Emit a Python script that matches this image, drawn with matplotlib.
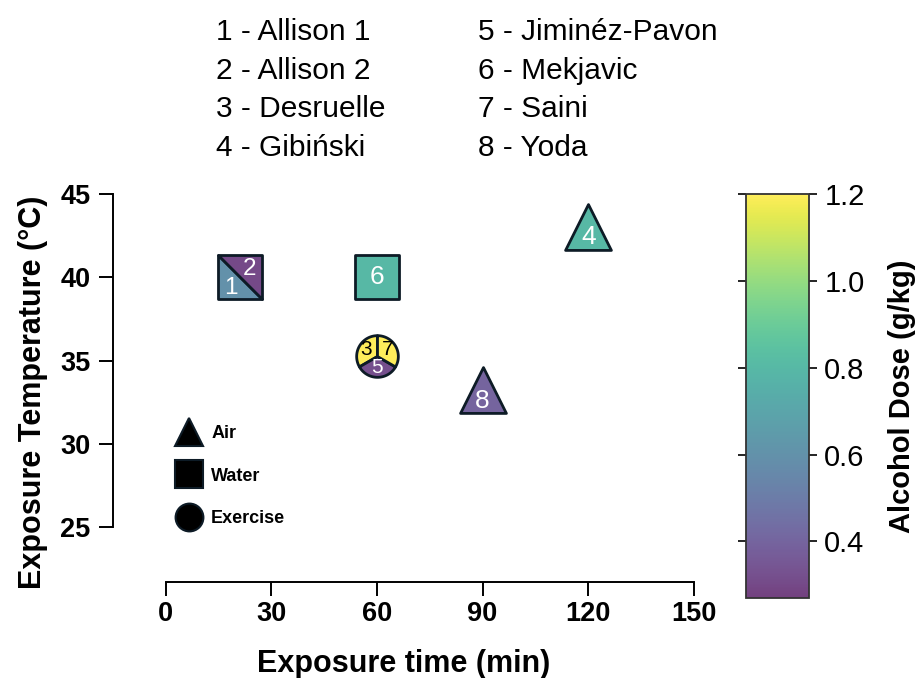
import numpy as np
import matplotlib
matplotlib.use("Agg")
import matplotlib.pyplot as plt
from matplotlib.path import Path
from matplotlib.colors import ListedColormap, Normalize
from matplotlib.lines import Line2D
from matplotlib.cm import ScalarMappable

plt.rcParams['font.family'] = ['Liberation Sans', 'DejaVu Sans']

# ---------------- data ----------------
study_ids = [1, 2, 3, 4, 5, 6, 7, 8]
study_names = ['Allison 1', 'Allison 2', 'Desruelle', 'Gibiński',
               'Jiminéz-Pavon', 'Mekjavic', 'Saini', 'Yoda']
exposure_time = [21, 21, 60, 120, 60, 60, 60, 90]          # min
exposure_temp = [40, 40, 35.3, 43, 35.3, 40, 35.3, 33.2]  # °C
alcohol_dose = [0.6, 0.3, 1.2, 0.8, 0.32, 0.8, 1.2, 0.4]  # g/kg
exposure_mode = ['Water', 'Water', 'Exercise', 'Air', 'Exercise',
                 'Water', 'Exercise', 'Air']
mode_names = ['Air', 'Water', 'Exercise']
x_ticks = [0, 30, 60, 90, 120, 150]
y_ticks = [25, 30, 35, 40, 45]
cbar_ticks = [0.4, 0.6, 0.8, 1.0, 1.2]
dose_min, dose_max = 0.27, 1.2

# ---------------- style ----------------
edge = '#0d1b26'
lw = 2.0
mode_marker = {'Air': '^', 'Water': 's', 'Exercise': 'o'}
mode_ms = {'Air': 33, 'Water': 31, 'Exercise': 30}

base = plt.get_cmap('viridis')(np.linspace(0, 1, 256))
soft = base.copy()
soft[:, :3] = base[:, :3] * 0.75 + 0.25
cmap = ListedColormap(soft)
norm = Normalize(vmin=dose_min, vmax=dose_max)

fig = plt.figure(figsize=(9.21, 6.78), dpi=100)
ax = fig.add_axes([0.1224, 0.1416, 0.6311, 0.5723])

ax.set_xlim(-15, 150)
ax.set_ylim(21.7, 45)
for s in ['top', 'right']:
    ax.spines[s].set_visible(False)
ax.spines['left'].set_bounds(25, 45)
ax.spines['bottom'].set_bounds(0, 150)
for s in ['left', 'bottom']:
    ax.spines[s].set_linewidth(1.4)
ax.set_xticks(x_ticks, labels=[str(v) for v in x_ticks],
              fontsize=19.5, fontweight='bold')
ax.set_yticks(y_ticks, labels=[str(v) for v in y_ticks],
              fontsize=19.5, fontweight='bold')
ax.tick_params(axis='both', length=10, width=1.4)
ax.tick_params(axis='x', pad=4)
ax.tick_params(axis='y', pad=6)

ax.set_xlabel('Exposure time (min)', fontsize=22, fontweight='bold')
ax.xaxis.set_label_coords(0.5, -0.172)
ax.set_ylabel('Exposure Temperature (°C)', fontsize=22, fontweight='bold', va='center')
ax.yaxis.set_label_coords(-0.138, 0.49)


def sector_path(a0, a1):
    ang = np.radians(np.arange(a0, a1 + 0.5, 1.0))
    verts = [(0, 0)] + list(zip(np.cos(ang), np.sin(ang))) + [(0, 0)]
    codes = [Path.MOVETO] + [Path.LINETO] * len(ang) + [Path.CLOSEPOLY]
    return Path(verts, codes)


tri_lower_left = Path([(-1, 1), (-1, -1), (1, -1), (-1, 1)],
                      [Path.MOVETO, Path.LINETO, Path.LINETO, Path.CLOSEPOLY])
tri_upper_right = Path([(-1, 1), (1, 1), (1, -1), (-1, 1)],
                       [Path.MOVETO, Path.LINETO, Path.LINETO, Path.CLOSEPOLY])

# group studies sharing a location and mode
groups = {}
for i in range(len(study_ids)):
    key = (exposure_time[i], exposure_temp[i], exposure_mode[i])
    groups.setdefault(key, []).append(i)

labels_to_draw = []
for (t, T, mode), idx in groups.items():
    ms = mode_ms[mode]
    n = len(idx)
    if n == 1:
        i = idx[0]
        ax.scatter([t], [T], s=ms ** 2, marker=mode_marker[mode], c=[alcohol_dose[i]],
                   cmap=cmap, norm=norm, edgecolors=edge, linewidths=lw,
                   zorder=3, clip_on=False)
        off = (0, -0.22 * ms) if mode == 'Air' else (0, 0)
        labels_to_draw.append((i, t, T, off, 19))
    elif mode == 'Water':
        shapes = [tri_lower_left, tri_upper_right]
        offs = [(-0.2 * ms, -0.24 * ms), (0.23 * ms, 0.2 * ms)]
        for k, i in enumerate(idx):
            ax.scatter([t], [T], s=ms ** 2, marker=shapes[k], c=[alcohol_dose[i]],
                       cmap=cmap, norm=norm, edgecolors=edge, linewidths=lw,
                       zorder=3, clip_on=False)
            labels_to_draw.append((i, t, T, offs[k], 17.5))
    else:
        step = 360.0 / n
        for k, i in enumerate(idx):
            a0 = 90 + k * step
            ax.scatter([t], [T], s=ms ** 2, marker=sector_path(a0, a0 + step),
                       c=[alcohol_dose[i]], cmap=cmap, norm=norm, edgecolors=edge,
                       linewidths=lw, zorder=3, clip_on=False)
            mid = np.radians(a0 + step / 2)
            r = 0.29 * ms
            labels_to_draw.append((i, t, T, (r * np.cos(mid), r * np.sin(mid)), 15))

for i, t, T, off, fs in labels_to_draw:
    col = 'black' if alcohol_dose[i] > 1.0 else 'white'
    ax.annotate(str(study_ids[i]), (t, T), xytext=off, textcoords='offset points',
                ha='center', va='center', fontsize=fs, color=col, zorder=4)

# shape legend
handles = [Line2D([0], [0], marker=mode_marker[m], ls='none', markerfacecolor='black',
                  markeredgecolor=edge, markeredgewidth=1.5, markersize=20)
           for m in mode_names]
leg = ax.legend(handles, mode_names, loc='upper left', bbox_to_anchor=(0.112, 0.405),
                frameon=False, borderpad=0, borderaxespad=0, handlelength=1.2,
                handletextpad=0.65, labelspacing=1.43,
                prop={'weight': 'bold', 'size': 13})

# colorbar
cax = fig.add_axes([0.8097, 0.1184, 0.0687, 0.5950])
sm = ScalarMappable(norm=norm, cmap=cmap)
cb = fig.colorbar(sm, cax=cax, ticks=cbar_ticks)
cb.outline.set_linewidth(1.3)
cb.outline.set_edgecolor('#333333')
cax.tick_params(left=True, right=True, labelleft=False, labelright=True,
                length=6, width=1.2, labelsize=21, pad=5)
cb.set_label('Alcohol Dose (g/kg)', fontsize=21, fontweight='bold', labelpad=17)

# study key at the top
for k, (sid, name) in enumerate(zip(study_ids, study_names)):
    col = k // 4
    row = k % 4
    x = [216, 478][col] / 921
    y = 1 - (40 + row * 38.7) / 678
    fig.text(x, y, f'{sid} - {name}', fontsize=21.5, va='baseline', ha='left')

fig.savefig('out.png', dpi=100)
